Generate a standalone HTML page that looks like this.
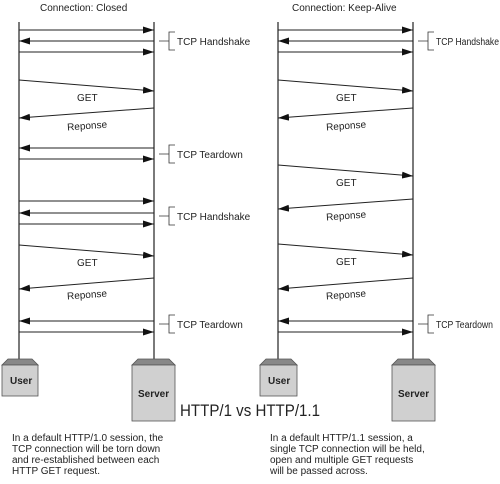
<!DOCTYPE html>
<html><head><meta charset="utf-8"><style>
body{margin:0;background:#fff;width:500px;height:479px;overflow:hidden}
svg text{font-family:"Liberation Sans",sans-serif;fill:#222}
</style></head><body>
<svg width="500" height="479" viewBox="0 0 500 479" xmlns="http://www.w3.org/2000/svg">
<defs>
<marker id="a" markerWidth="11" markerHeight="7" refX="11" refY="3.5" orient="auto" markerUnits="userSpaceOnUse"><path d="M0,0 L11,3.5 L0,7z" fill="#111"/></marker>
</defs>
<g stroke="#222" stroke-width="1.2" fill="none">
<line x1="19" y1="22" x2="19" y2="360"/><line x1="154" y1="22" x2="154" y2="360"/>
<line x1="278" y1="22" x2="278" y2="360"/><line x1="413" y1="22" x2="413" y2="360"/>
</g>
<g stroke="#222" stroke-width="1" marker-end="url(#a)">
<line x1="19" y1="30" x2="154" y2="30"/><line x1="154" y1="41" x2="19" y2="41"/><line x1="19" y1="52" x2="154" y2="52"/>
<line x1="19" y1="80" x2="154" y2="91"/><line x1="154" y1="108" x2="19" y2="118"/>
<line x1="154" y1="148" x2="19" y2="148"/><line x1="19" y1="159" x2="154" y2="159"/>
<line x1="19" y1="201" x2="154" y2="201"/><line x1="154" y1="213" x2="19" y2="213"/><line x1="19" y1="224" x2="154" y2="224"/>
<line x1="19" y1="245" x2="154" y2="256"/><line x1="154" y1="278" x2="19" y2="289"/>
<line x1="154" y1="321" x2="19" y2="321"/><line x1="19" y1="332" x2="154" y2="332"/>
<line x1="278" y1="30" x2="413" y2="30"/><line x1="413" y1="41" x2="278" y2="41"/><line x1="278" y1="52" x2="413" y2="52"/>
<line x1="278" y1="80" x2="413" y2="91"/><line x1="413" y1="108" x2="278" y2="118"/>
<line x1="278" y1="165" x2="413" y2="176"/><line x1="413" y1="199" x2="278" y2="209"/>
<line x1="278" y1="244" x2="413" y2="255"/><line x1="413" y1="278" x2="278" y2="289"/>
<line x1="413" y1="321" x2="278" y2="321"/><line x1="278" y1="332" x2="413" y2="332"/>
</g>
<g stroke="#333" stroke-width="0.8" fill="none">
<path d="M159,41 H169 M175,32 H169 V50 H175"/>
<path d="M159,154 H169 M175,145 H169 V163 H175"/>
<path d="M159,216 H169 M175,207 H169 V225 H175"/>
<path d="M159,324 H169 M175,315 H169 V333 H175"/>
<path d="M418,41 H428 M434,32 H428 V50 H434"/>
<path d="M418,324 H428 M434,315 H428 V333 H434"/>
</g>
<g font-size="10">
<text x="177" y="45">TCP Handshake</text>
<text x="177" y="158">TCP Teardown</text>
<text x="177" y="220">TCP Handshake</text>
<text x="177" y="328">TCP Teardown</text>
<text x="436" y="45" textLength="63" lengthAdjust="spacingAndGlyphs">TCP Handshake</text>
<text x="436" y="328" textLength="57" lengthAdjust="spacingAndGlyphs">TCP Teardown</text>
<text x="40" y="11">Connection: Closed</text>
<text x="292" y="11">Connection: Keep-Alive</text>
<text x="77" y="101">GET</text><text x="67" y="129" transform="rotate(-4 88 125)">Reponse</text>
<text x="77" y="266">GET</text><text x="67" y="298" transform="rotate(-4 88 295)">Reponse</text>
<text x="336" y="101">GET</text><text x="326" y="129" transform="rotate(-4 347 125)">Reponse</text>
<text x="336" y="186">GET</text><text x="326" y="219" transform="rotate(-4 347 215)">Reponse</text>
<text x="336" y="265">GET</text><text x="326" y="298" transform="rotate(-4 347 295)">Reponse</text>
</g>
<g stroke="#555" stroke-width="0.8">
<path d="M2,365 L8,359 H32 L38,365z" fill="#888"/><rect x="2" y="365" width="36" height="31" fill="#d0d0d0"/>
<path d="M132,365 L138,359 H169 L175,365z" fill="#888"/><rect x="132" y="365" width="43" height="56" fill="#d0d0d0"/>
<path d="M260,365 L266,359 H291 L297,365z" fill="#888"/><rect x="260" y="365" width="37" height="31" fill="#d0d0d0"/>
<path d="M392,365 L398,359 H429 L435,365z" fill="#888"/><rect x="392" y="365" width="43" height="56" fill="#d0d0d0"/>
</g>
<g font-size="10" font-weight="bold">
<text x="10" y="384">User</text><text x="138" y="397">Server</text>
<text x="268" y="384">User</text><text x="398" y="397">Server</text>
</g>
<text x="180" y="416" font-size="17" fill="#333" textLength="140" lengthAdjust="spacingAndGlyphs">HTTP/1 vs HTTP/1.1</text>
<g font-size="10">
<text x="12" y="441">In a default HTTP/1.0 session, the</text>
<text x="12" y="452">TCP connection will be torn down</text>
<text x="12" y="463">and re-established between each</text>
<text x="12" y="474">HTTP GET request.</text>
<text x="270" y="441">In a default HTTP/1.1 session, a</text>
<text x="270" y="452">single TCP connection will be held,</text>
<text x="270" y="463">open and multiple GET requests</text>
<text x="270" y="474">will be passed across.</text>
</g>
</svg>
</body></html>
